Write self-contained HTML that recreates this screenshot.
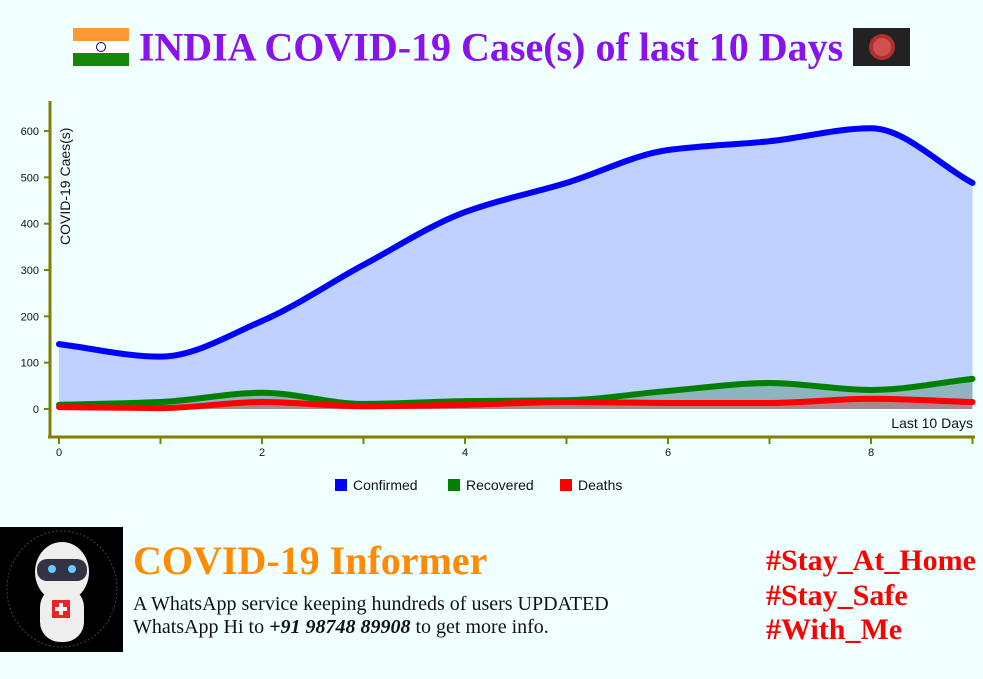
<!DOCTYPE html>
<html><head><meta charset="utf-8"><style>
body{margin:0;background:#f0ffff;width:983px;height:679px;overflow:hidden;position:relative;font-family:"Liberation Sans",sans-serif}
.abs{position:absolute}
.title{left:0;width:983px;top:19px;text-align:center;font:bold 40px "Liberation Serif",serif;color:#8a12ee;white-space:nowrap}
.title span{vertical-align:middle}
</style></head><body>
<div class="abs title">
<svg width="56" height="38" style="vertical-align:middle"><rect width="56" height="13" fill="#ff9933"/><rect y="13" width="56" height="12" fill="#fff"/><rect y="25" width="56" height="13" fill="#138808"/><circle cx="28" cy="19" r="4.5" fill="none" stroke="#000080" stroke-width="1"/></svg>
<span>INDIA COVID-19 Case(s) of last 10 Days</span>
<svg width="57" height="38" style="vertical-align:middle"><rect width="57" height="38" fill="#222"/><circle cx="29" cy="19" r="13" fill="#b03030"/><circle cx="29" cy="19" r="9" fill="#d05050"/></svg>
</div>
<svg id="c" class="abs" style="left:0;top:0" width="983" height="520"></svg>
<div class="abs" style="left:0;top:527px;width:123px;height:125px;background:#000">
<svg width="123" height="125"><ellipse cx="62" cy="62" rx="55" ry="58" fill="none" stroke="#444" stroke-dasharray="2 2"/><ellipse cx="62" cy="45" rx="27" ry="30" fill="#eee"/><rect x="37" y="32" width="50" height="22" rx="10" fill="#334"/><circle cx="52" cy="42" r="4" fill="#6cf"/><circle cx="72" cy="42" r="4" fill="#6cf"/><rect x="40" y="60" width="44" height="55" rx="20" fill="#eee"/><rect x="52" y="73" width="18" height="18" fill="#e22"/><rect x="59" y="76" width="4" height="12" fill="#fff"/><rect x="55" y="80" width="12" height="4" fill="#fff"/></svg></div>
<div class="abs" style="left:133px;top:537px;font:bold 40px 'Liberation Serif',serif;color:#ff8c00">COVID-19 Informer</div>
<div class="abs" style="left:133px;top:593px;font:20px/23px 'Liberation Serif',serif;color:#111">A WhatsApp service keeping hundreds of users UPDATED<br>WhatsApp Hi to <b><i>+91 98748 89908</i></b> to get more info.</div>
<div class="abs" style="left:766px;top:544px;font:bold 30px/34.5px 'Liberation Serif',serif;color:#f00">#Stay_At_Home<br>#Stay_Safe<br>#With_Me</div>
<script>
const days=[0,1,2,3,4,5,6,7,8,9];
const confirmed=[140,113,190,311,425,488,559,578,606,488];
const recovered=[9,15,35,11,17,19,39,56,41,65];
const deaths=[4,2,15,6,9,15,13,13,22,15];
const yTicks=[0,100,200,300,400,500,600];
const xTicks=[0,2,4,6,8];
const NS="http://www.w3.org/2000/svg",svg=document.getElementById('c');
const X=v=>59+v*101.5, Y=v=>409-v*0.4633;
function el(t,a,p){const e=document.createElementNS(NS,t);for(const k in a)e.setAttribute(k,a[k]);(p||svg).appendChild(e);return e;}
function mono(xs,ys){const n=xs.length,d=[],m=[];for(let i=0;i<n-1;i++)d.push((ys[i+1]-ys[i])/(xs[i+1]-xs[i]));
m[0]=d[0];m[n-1]=d[n-2];
for(let i=1;i<n-1;i++){if(d[i-1]*d[i]<=0)m[i]=0;else{const a=d[i-1],b=d[i];m[i]=2*a*b/(a+b);}}
let s=`M${xs[0]},${ys[0]}`;for(let i=0;i<n-1;i++){const h=(xs[i+1]-xs[i])/3;s+=` C${xs[i]+h},${ys[i]+m[i]*h} ${xs[i+1]-h},${ys[i+1]-m[i+1]*h} ${xs[i+1]},${ys[i+1]}`;}return s;}
const series=[[confirmed,'#0000ff','rgba(60,90,255,0.28)','confirmed'],[recovered,'#008000','rgba(0,100,0,0.25)','recovered'],[deaths,'#ff0000','rgba(255,0,0,0.25)','deaths']];
series.forEach(([vals,c,f,n])=>{const xs=days.map(X),ys=vals.map(Y),p=mono(xs,ys);
const a=el('path',{d:p+` L${X(9)},${Y(0)} L${X(0)},${Y(0)} Z`,fill:f});
const l=el('path',{d:p,fill:'none',stroke:c,'stroke-width':6,'stroke-linecap':'round'});});
const ya=el('line',{x1:50,y1:101,x2:50,y2:438,stroke:'#808000','stroke-width':3});
const xa=el('line',{x1:48,y1:437,x2:975,y2:437,stroke:'#808000','stroke-width':3});
yTicks.forEach(t=>{el('line',{x1:44,y1:Y(t),x2:50,y2:Y(t),stroke:'#808000','stroke-width':2});const tx=el('text',{x:39,y:Y(t)+4,'text-anchor':'end','font-size':11,fill:'#111'});tx.textContent=t;});
days.forEach(d=>el('line',{x1:X(d),y1:437,x2:X(d),y2:444,stroke:'#808000','stroke-width':2}));
xTicks.forEach(t=>{const tx=el('text',{x:X(t),y:456,'text-anchor':'middle','font-size':11,fill:'#111'});tx.textContent=t;});
const yt=el('text',{transform:'translate(70,245) rotate(-90)','font-size':14,fill:'#111'});yt.textContent='COVID-19 Caes(s)';
const xt=el('text',{x:973,y:428,'text-anchor':'end','font-size':14,fill:'#111'});xt.textContent='Last 10 Days';
[['Confirmed','#0000ff',335],['Recovered','#008000',448],['Deaths','#ff0000',560]].forEach(([t,c,x])=>{const g=el('g',{});
el('rect',{x:x,y:479,width:12,height:12,fill:c},g);const tx=el('text',{x:x+18,y:490,'font-size':14,fill:'#111'},g);tx.textContent=t;});
</script>
</body></html>
